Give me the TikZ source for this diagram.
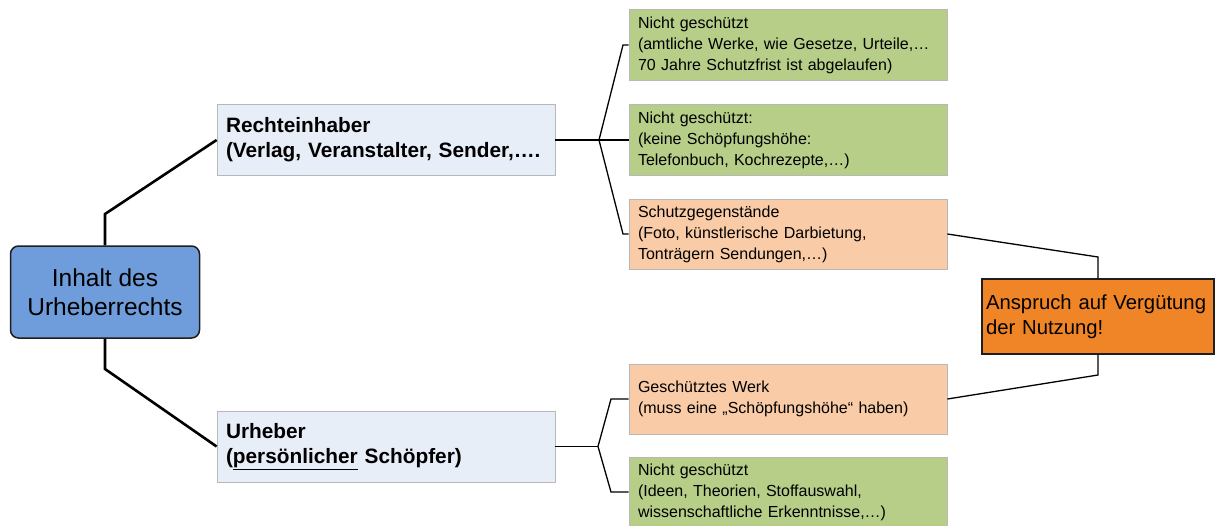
\documentclass[tikz,border=0pt]{standalone}
\usepackage{fontspec}
\setmainfont{Liberation Sans}
\usetikzlibrary{calc}

\definecolor{rootblue}{HTML}{6F9DDB}
\definecolor{paleblue}{HTML}{E8EEF8}
\definecolor{leafgreen}{HTML}{B6CE88}
\definecolor{peach}{HTML}{F9CBA6}
\definecolor{claimorange}{HTML}{F08527}
\definecolor{rimgray}{HTML}{B8B8B8}
\definecolor{inkdark}{HTML}{1E1E1E}

\begin{document}
\begin{tikzpicture}[x=1pt, y=-1pt,
    rootbox/.style={draw=inkdark, fill=rootblue, line width=1.5pt, rounded corners=8pt,
        minimum width=189pt, minimum height=92pt, align=center,
        font=\fontsize{24.5}{29}\selectfont},
    holderbox/.style={draw=rimgray, fill=paleblue, line width=0.8pt, inner xsep=9pt, inner ysep=0pt,
        text width=320pt, minimum height=71pt, align=left,
        font=\bfseries\fontsize{20.8}{25}\selectfont},
    leafbox/.style={draw=rimgray, line width=0.8pt, inner xsep=9pt, inner ysep=0pt,
        text width=300pt, minimum height=71pt, align=left,
        font=\fontsize{16}{21}\selectfont},
    claimbox/.style={draw=inkdark, fill=claimorange, line width=1.3pt, inner xsep=4pt, inner ysep=0pt,
        text width=224pt, minimum height=75pt, align=left,
        font=\fontsize{20.3}{25}\selectfont},
    stem/.style={draw=black, line width=2.6pt},
    twig/.style={draw=black, line width=1.3pt}]

    \useasboundingbox (0,0) rectangle (1215,525);

    % Root and main branches
    \node[rootbox] (root) at (105,292) {Inhalt des\\Urheberrechts};
    \node[holderbox] (holder) at (386,140) {Rechteinhaber\\(Verlag, Veranstalter, Sender,….};
    \node[holderbox] (author) at (386,446.5) {Urheber\\(\underline{persönlicher} Schöpfer)};

    % Leaves
    \node[leafbox, fill=leafgreen] (free1) at (788,45) {Nicht geschützt\\(amtliche Werke, wie Gesetze, Urteile,…\\70 Jahre Schutzfrist ist abgelaufen)};
    \node[leafbox, fill=leafgreen] (free2) at (788,140) {Nicht geschützt:\\(keine Schöpfungshöhe:\\Telefonbuch, Kochrezepte,…)};
    \node[leafbox, fill=peach, minimum height=70pt] (subj) at (788,234) {Schutzgegenstände\\(Foto, künstlerische Darbietung,\\Tonträgern Sendungen,…)};
    \node[leafbox, fill=peach, minimum height=70pt] (work) at (788,399) {Geschütztes Werk\\(muss eine „Schöpfungshöhe“ haben)};
    \node[leafbox, fill=leafgreen, minimum height=70pt] (free3) at (788,492) {Nicht geschützt\\(Ideen, Theorien, Stoffauswahl,\\wissenschaftliche Erkenntnisse,…)};

    % Claim
    \node[claimbox] (claim) at (1098,316.5) {Anspruch auf Vergütung\\der Nutzung!};

    % Connectors from root
    \draw[stem] (root.north) -- (105,214) -- (holder.west);
    \draw[stem] (root.south) -- (105,369) -- (author.west);

    % Forks
    \coordinate (hfork) at (599,140);
    \coordinate (afork) at (598,446.5);
    \draw[twig] (holder.east) -- (hfork);
    \draw[twig] (hfork) -- (623,45) -- (free1.west);
    \draw[twig] (hfork) -- (free2.west);
    \draw[twig] (hfork) -- (623,234) -- (subj.west);
    \draw[twig] (author.east) -- (afork);
    \draw[twig] (afork) -- (611,399) -- (work.west);
    \draw[twig] (afork) -- (611,492) -- (free3.west);

    % Into the claim
    \draw[twig] (subj.east) -- (claim.north |- 0,257) -- (claim.north);
    \draw[twig] (work.east) -- (claim.south |- 0,375) -- (claim.south);
\end{tikzpicture}
\end{document}
